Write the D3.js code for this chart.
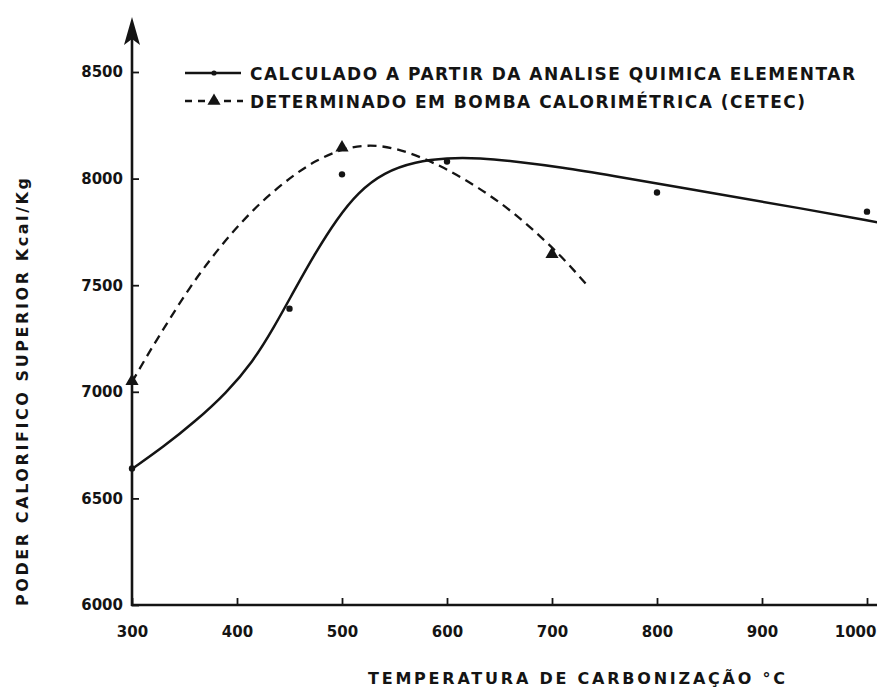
<!DOCTYPE html>
<html><head><meta charset="utf-8">
<script src="https://cdn.jsdelivr.net/npm/d3@7"></script>
<style>
body{margin:0;background:#fff}
svg{display:block}
text{font-family:"DejaVu Sans",sans-serif;font-weight:bold;fill:#141414}
</style>
</head><body>
<svg id="c" width="877" height="689"></svg>
<script>
// ---- data ----
const xTicks = [300, 400, 500, 600, 700, 800, 900, 1000];
const yTicks = [6000, 6500, 7000, 7500, 8000, 8500];

// measured points (calculated from elemental analysis) - dots
const calcTemps  = [300, 450, 500, 600, 800, 1000];
const calcValues = [6640, 7390, 8020, 8080, 7935, 7845];

// measured points (bomb calorimeter, CETEC) - triangles
const bombTemps  = [300, 500, 700];
const bombValues = [7050, 8145, 7645];

// hand-drawn fitted curves
const calcCurveTemps  = [300, 300, 330, 360, 390, 415, 435, 455, 475, 495, 515, 540, 570, 600, 630, 670, 710, 750, 850, 940, 1010, 1010];
const calcCurveValues = [6638, 6638, 6742, 6860, 6995, 7140, 7300, 7480, 7655, 7810, 7935, 8030, 8080, 8097, 8097, 8078, 8052, 8020, 7935, 7858, 7795, 7795];

const bombCurveTemps  = [300, 300, 315, 335, 355, 375, 395, 415, 435, 455, 475, 500, 525, 550, 575, 600, 630, 660, 690, 712, 735, 735];
const bombCurveValues = [7046, 7046, 7175, 7335, 7490, 7625, 7745, 7852, 7942, 8020, 8085, 8140, 8160, 8145, 8101, 8045, 7958, 7855, 7725, 7620, 7491, 7491];

const legendLabels = ["CALCULADO A PARTIR DA ANALISE QUIMICA ELEMENTAR",
                      "DETERMINADO EM BOMBA CALORIMÉTRICA (CETEC)"];
const xTitle = "TEMPERATURA DE CARBONIZAÇÃO °C";
const yTitle = "PODER CALORIFICO SUPERIOR Kcal/Kg";

// ---- drawing ----
const svg = d3.select("#c");
const ink = "#141414";
const x = d3.scaleLinear().domain([300, 1000]).range([132, 867]);
const y = d3.scaleLinear().domain([6000, 8500]).range([605, 72]);
const x0 = x(300), y0 = y(6000);

// x axis
const gx = svg.append("g").attr("transform", `translate(0,${y0})`)
  .call(d3.axisBottom(x).tickValues(xTicks).tickSizeInner(-7).tickSizeOuter(0).tickPadding(21).tickFormat(d3.format("d")));
gx.select(".domain").remove();
gx.selectAll(".tick line").attr("stroke", ink).attr("stroke-width", 1.8);
gx.selectAll(".tick text").style("font-size", "15px").style("font-family", '"DejaVu Sans",sans-serif').attr("fill", ink);
// last label sits against the right edge, as in the reference
gx.selectAll(".tick").filter(d => d === 1000).select("text")
  .attr("text-anchor", "end").attr("x", 877 - x(1000) - 1);
svg.append("line").attr("x1", x0 - 1).attr("x2", 877).attr("y1", y0).attr("y2", y0)
  .attr("stroke", ink).attr("stroke-width", 2.6);

// y axis
const gy = svg.append("g").attr("transform", `translate(${x0},0)`)
  .call(d3.axisLeft(y).tickValues(yTicks).tickSizeInner(-7).tickSizeOuter(0).tickPadding(9).tickFormat(d3.format("d")));
gy.select(".domain").remove();
gy.selectAll(".tick line").attr("stroke", ink).attr("stroke-width", 1.8);
gy.selectAll(".tick text").style("font-size", "15px").style("font-family", '"DejaVu Sans",sans-serif').attr("fill", ink);
svg.append("line").attr("x1", x0).attr("x2", x0).attr("y1", y0 + 1).attr("y2", 34)
  .attr("stroke", ink).attr("stroke-width", 2.6);
svg.append("path")
  .attr("d", `M${x0},17 L${x0 + 8},45 L${x0},39 L${x0 - 8},45 Z`)
  .attr("fill", ink);

// curves
const line = d3.line().x(d => x(d[0])).y(d => y(d[1])).curve(d3.curveBasis);
svg.append("path").datum(d3.zip(calcCurveTemps, calcCurveValues))
  .attr("d", line).attr("fill", "none").attr("stroke", ink).attr("stroke-width", 2.5);
svg.append("path").datum(d3.zip(bombCurveTemps, bombCurveValues))
  .attr("d", line).attr("fill", "none").attr("stroke", ink).attr("stroke-width", 2.3)
  .attr("stroke-dasharray", "9,6");

// markers
svg.append("g").selectAll("circle").data(d3.zip(calcTemps, calcValues)).join("circle")
  .attr("cx", d => x(d[0])).attr("cy", d => y(d[1])).attr("r", 3.2).attr("fill", ink);
const tri = d3.symbol().type(d3.symbolTriangle).size(75);
svg.append("g").selectAll("path").data(d3.zip(bombTemps, bombValues)).join("path")
  .attr("d", tri).attr("transform", d => `translate(${x(d[0])},${y(d[1])})`).attr("fill", ink);

// legend
const legRows = [73, 101];
svg.append("line").attr("x1", 185).attr("x2", 241).attr("y1", legRows[0]).attr("y2", legRows[0])
  .attr("stroke", ink).attr("stroke-width", 2.5);
svg.append("circle").attr("cx", 214).attr("cy", legRows[0]).attr("r", 2.6).attr("fill", ink);
svg.append("line").attr("x1", 185).attr("x2", 243).attr("y1", legRows[1]).attr("y2", legRows[1])
  .attr("stroke", ink).attr("stroke-width", 2.3).attr("stroke-dasharray", "7,6");
svg.append("path").attr("d", tri).attr("transform", `translate(214,${legRows[1]})`).attr("fill", ink);
const legLen = [605, 555];
legendLabels.forEach((t, i) => {
  svg.append("text").attr("x", 250).attr("y", legRows[i] + 6.5)
    .attr("textLength", legLen[i]).attr("lengthAdjust", "spacing")
    .style("font-size", "17px").text(t);
});

// axis titles
svg.append("text").attr("x", 368).attr("y", 684)
  .attr("textLength", 417).attr("lengthAdjust", "spacing")
  .style("font-size", "16px").text(xTitle);
svg.append("text").attr("transform", "translate(28,606) rotate(-90)")
  .attr("textLength", 428).attr("lengthAdjust", "spacing")
  .style("font-size", "16px").text(yTitle);
</script>
</body></html>
